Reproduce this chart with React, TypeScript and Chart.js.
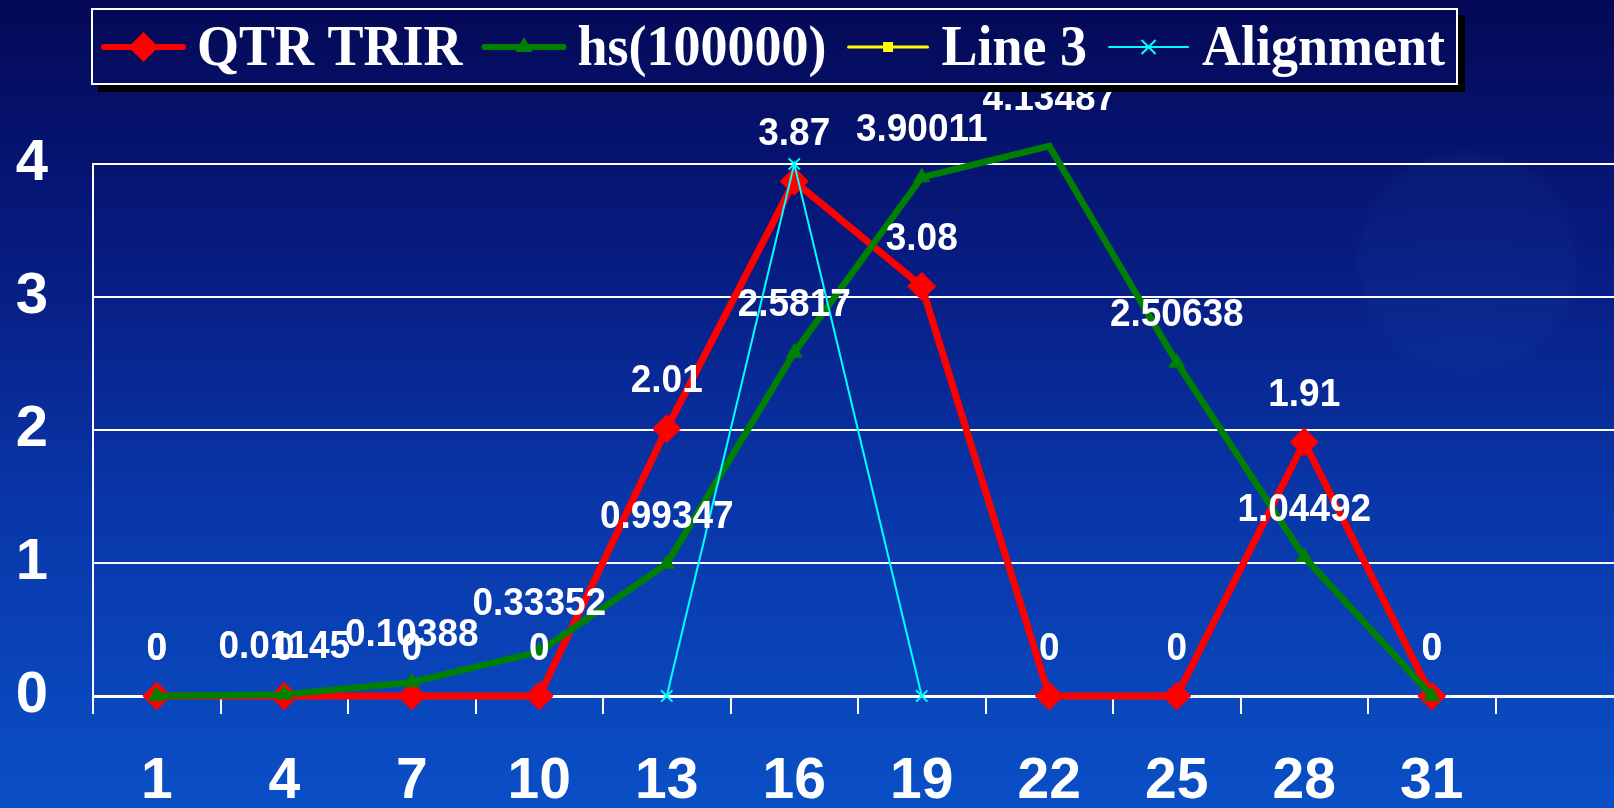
import React, { useEffect, useRef } from 'react';
import { Chart, registerables } from 'chart.js';

Chart.register(...registerables);

// ---------- data ----------
const categories = ['1', '4', '7', '10', '13', '16', '19', '22', '25', '28', '31', ''];
const qtrTrir = [0, 0, 0, 0, 2.01, 3.87, 3.08, 0, 0, 1.91, 0, null];
const hs100000 = [0, 0.01145, 0.10388, 0.33352, 0.99347, 2.5817, 3.90011, 4.13487, 2.50638, 1.04492, 0, null];
const line3 = [null, null, null, null, null, null, null, null, null, null, null, null];
const alignment = [null, null, null, null, 0, 4, 0, null, null, null, null, null];
const seriesNames = ['QTR TRIR', 'hs(100000)', 'Line 3', 'Alignment'];
const yMin = 0;
const yMax = 4;
const yStep = 1;
const labelledSeries = [0, 1];

// ---------- styles ----------
const SANS = '"Liberation Sans", Arial, sans-serif';
const SERIF = '"Liberation Serif", "Times New Roman", serif';
const RED = '#ff0000';
const GREEN = '#008000';
const YELLOW = '#ffff00';
const CYAN = '#00ffff';

function paintBackground(ctx: CanvasRenderingContext2D, w: number, h: number) {
  const g = ctx.createLinearGradient(0, 0, 0, h);
  g.addColorStop(0, '#040956');
  g.addColorStop(0.3, '#071a7e');
  g.addColorStop(0.62, '#0936a8');
  g.addColorStop(1, '#0a4fc6');
  ctx.fillStyle = g;
  ctx.fillRect(0, 0, w, h);
  const r = ctx.createRadialGradient(1467, 262, 0, 1467, 262, 115);
  r.addColorStop(0, 'rgba(40,90,180,0.10)');
  r.addColorStop(0.9, 'rgba(40,90,180,0.08)');
  r.addColorStop(1, 'rgba(40,90,180,0)');
  ctx.fillStyle = r;
  ctx.fillRect(1300, 100, 340, 330);
}

function drawMarker(ctx: CanvasRenderingContext2D, style: string, x: number, y: number, r: number, color: string) {
  ctx.fillStyle = color;
  ctx.strokeStyle = color;
  ctx.beginPath();
  if (style === 'rectRot') {
    ctx.moveTo(x, y - r);
    ctx.lineTo(x + r, y);
    ctx.lineTo(x, y + r);
    ctx.lineTo(x - r, y);
    ctx.closePath();
    ctx.fill();
  } else if (style === 'triangle') {
    const s = r * Math.sqrt(3);
    ctx.moveTo(x, y - r);
    ctx.lineTo(x + s / 2, y + r / 2);
    ctx.lineTo(x - s / 2, y + r / 2);
    ctx.closePath();
    ctx.fill();
  } else if (style === 'rect') {
    ctx.rect(x - r, y - r, 2 * r, 2 * r);
    ctx.fill();
  } else if (style === 'crossRot') {
    ctx.lineWidth = 2;
    ctx.moveTo(x - r, y - r);
    ctx.lineTo(x + r, y + r);
    ctx.moveTo(x - r, y + r);
    ctx.lineTo(x + r, y - r);
    ctx.stroke();
  }
}

const legendSymbols = [
  { color: RED, style: 'rectRot', r: 15, lw: 6 },
  { color: GREEN, style: 'triangle', r: 10, lw: 6 },
  { color: YELLOW, style: 'rect', r: 5, lw: 3 },
  { color: CYAN, style: 'crossRot', r: 7, lw: 2 },
];

const backgroundPlugin = {
  id: 'bgPaint',
  beforeDraw(chart: any) {
    const ctx = chart.ctx;
    ctx.save();
    paintBackground(ctx, chart.width, chart.height);
    ctx.restore();
  },
};

const valueLabelPlugin = {
  id: 'valueLabels',
  afterDatasetsDraw(chart: any) {
    const ctx = chart.ctx;
    ctx.save();
    ctx.font = `bold 37px ${SANS}`;
    ctx.fillStyle = '#ffffff';
    ctx.textAlign = 'center';
    ctx.textBaseline = 'middle';
    labelledSeries.forEach((di) => {
      const meta = chart.getDatasetMeta(di);
      const values = chart.data.datasets[di].data;
      meta.data.forEach((pt: any, j: number) => {
        const v = values[j];
        if (v === null || v === undefined) return;
        ctx.save();
        ctx.translate(pt.x, pt.y - 47);
        ctx.scale(1, 1.05);
        ctx.fillText(String(v), 0, 0);
        ctx.restore();
      });
    });
    ctx.restore();
  },
};

const legendPlugin = {
  id: 'boxLegend',
  afterDraw(chart: any) {
    const ctx = chart.ctx;
    const L = 91, T = 8, R = 1458, B = 85;
    ctx.save();
    ctx.fillStyle = '#000000';
    ctx.fillRect(L + 7, T + 7, R - L, B - T);
    ctx.save();
    ctx.beginPath();
    ctx.rect(L, T, R - L, B - T);
    ctx.clip();
    paintBackground(ctx, chart.width, chart.height);
    ctx.restore();
    ctx.strokeStyle = '#ffffff';
    ctx.lineWidth = 2;
    ctx.strokeRect(L + 1, T + 1, R - L - 2, B - T - 2);

    ctx.font = `bold 54px ${SERIF}`;
    ctx.textBaseline = 'alphabetic';
    ctx.textAlign = 'left';
    let x = 104;
    const cy = 47;
    chart.data.datasets.forEach((ds: any, i: number) => {
      const sym = legendSymbols[i];
      ctx.strokeStyle = sym.color;
      ctx.lineWidth = sym.lw;
      ctx.lineCap = 'round';
      ctx.beginPath();
      ctx.moveTo(x, cy);
      ctx.lineTo(x + 79, cy);
      ctx.stroke();
      ctx.lineCap = 'butt';
      drawMarker(ctx, sym.style, x + 39.5, cy, sym.r, sym.color);
      x += 79 + 14;
      ctx.fillStyle = '#ffffff';
      ctx.save();
      ctx.translate(x, 65);
      ctx.scale(1, 1.06);
      ctx.fillText(ds.label, 0, 0);
      ctx.restore();
      x += ctx.measureText(ds.label).width + 22;
    });
    ctx.restore();
  },
};

export default function App() {
  const canvasRef = useRef<HTMLCanvasElement | null>(null);

  useEffect(() => {
    if (!canvasRef.current) return;
    const chart = new Chart(canvasRef.current, {
      type: 'line',
      data: {
        labels: categories,
        datasets: [
          {
            label: seriesNames[0],
            data: qtrTrir,
            borderColor: RED,
            backgroundColor: RED,
            borderWidth: 7,
            pointStyle: 'rectRot',
            pointRadius: 14,
            pointBackgroundColor: RED,
            pointBorderColor: RED,
            pointBorderWidth: 1,
            tension: 0,
            clip: false,
            order: 3,
          },
          {
            label: seriesNames[1],
            data: hs100000,
            borderColor: GREEN,
            backgroundColor: GREEN,
            borderWidth: 6.5,
            pointStyle: 'triangle',
            pointRadius: 9,
            pointBackgroundColor: GREEN,
            pointBorderColor: GREEN,
            pointBorderWidth: 1,
            tension: 0,
            clip: false,
            order: 2,
          },
          {
            label: seriesNames[2],
            data: line3,
            borderColor: YELLOW,
            backgroundColor: YELLOW,
            borderWidth: 3,
            pointStyle: 'rect',
            pointRadius: 5,
            tension: 0,
            clip: false,
            order: 1,
          },
          {
            label: seriesNames[3],
            data: alignment,
            borderColor: CYAN,
            backgroundColor: CYAN,
            borderWidth: 2,
            pointStyle: 'crossRot',
            pointRadius: 8,
            pointBorderColor: CYAN,
            pointBorderWidth: 2,
            tension: 0,
            clip: false,
            order: 0,
          },
        ],
      },
      options: {
        responsive: false,
        animation: false,
        devicePixelRatio: 1,
        layout: { padding: { top: 164, left: 0, right: 0, bottom: 0 } },
        plugins: {
          legend: { display: false },
          tooltip: { enabled: false },
          title: { display: false },
        },
        scales: {
          x: {
            type: 'category',
            offset: true,
            grid: {
              display: true,
              offset: true,
              drawOnChartArea: false,
              drawTicks: true,
              tickLength: 18,
              color: '#ffffff',
              lineWidth: 2,
            },
            border: { display: true, color: '#ffffff', width: 3 },
            ticks: {
              color: '#ffffff',
              font: { family: SANS, size: 57, weight: 'bold' },
              padding: 34,
              maxRotation: 0,
              autoSkip: false,
            },
            afterFit: (scale: any) => {
              scale.height = 112;
            },
          },
          y: {
            min: yMin,
            max: yMax,
            grid: {
              color: '#ffffff',
              lineWidth: 2,
              drawTicks: false,
            },
            border: { display: true, color: '#ffffff', width: 2 },
            ticks: {
              stepSize: yStep,
              color: '#ffffff',
              font: { family: SANS, size: 58, weight: 'bold' },
              padding: 45,
            },
            afterFit: (scale: any) => {
              scale.width = 93;
            },
          },
        },
      } as any,
      plugins: [backgroundPlugin, valueLabelPlugin, legendPlugin],
    });
    return () => chart.destroy();
  }, []);

  return (
    <div
      style={{
        position: 'fixed',
        left: 0,
        top: 0,
        width: 1614,
        height: 808,
        overflow: 'hidden',
        background: '#0a2a90',
      }}
    >
      <canvas ref={canvasRef} width={1638} height={808} style={{ display: 'block', width: 1638, height: 808 }} />
    </div>
  );
}
